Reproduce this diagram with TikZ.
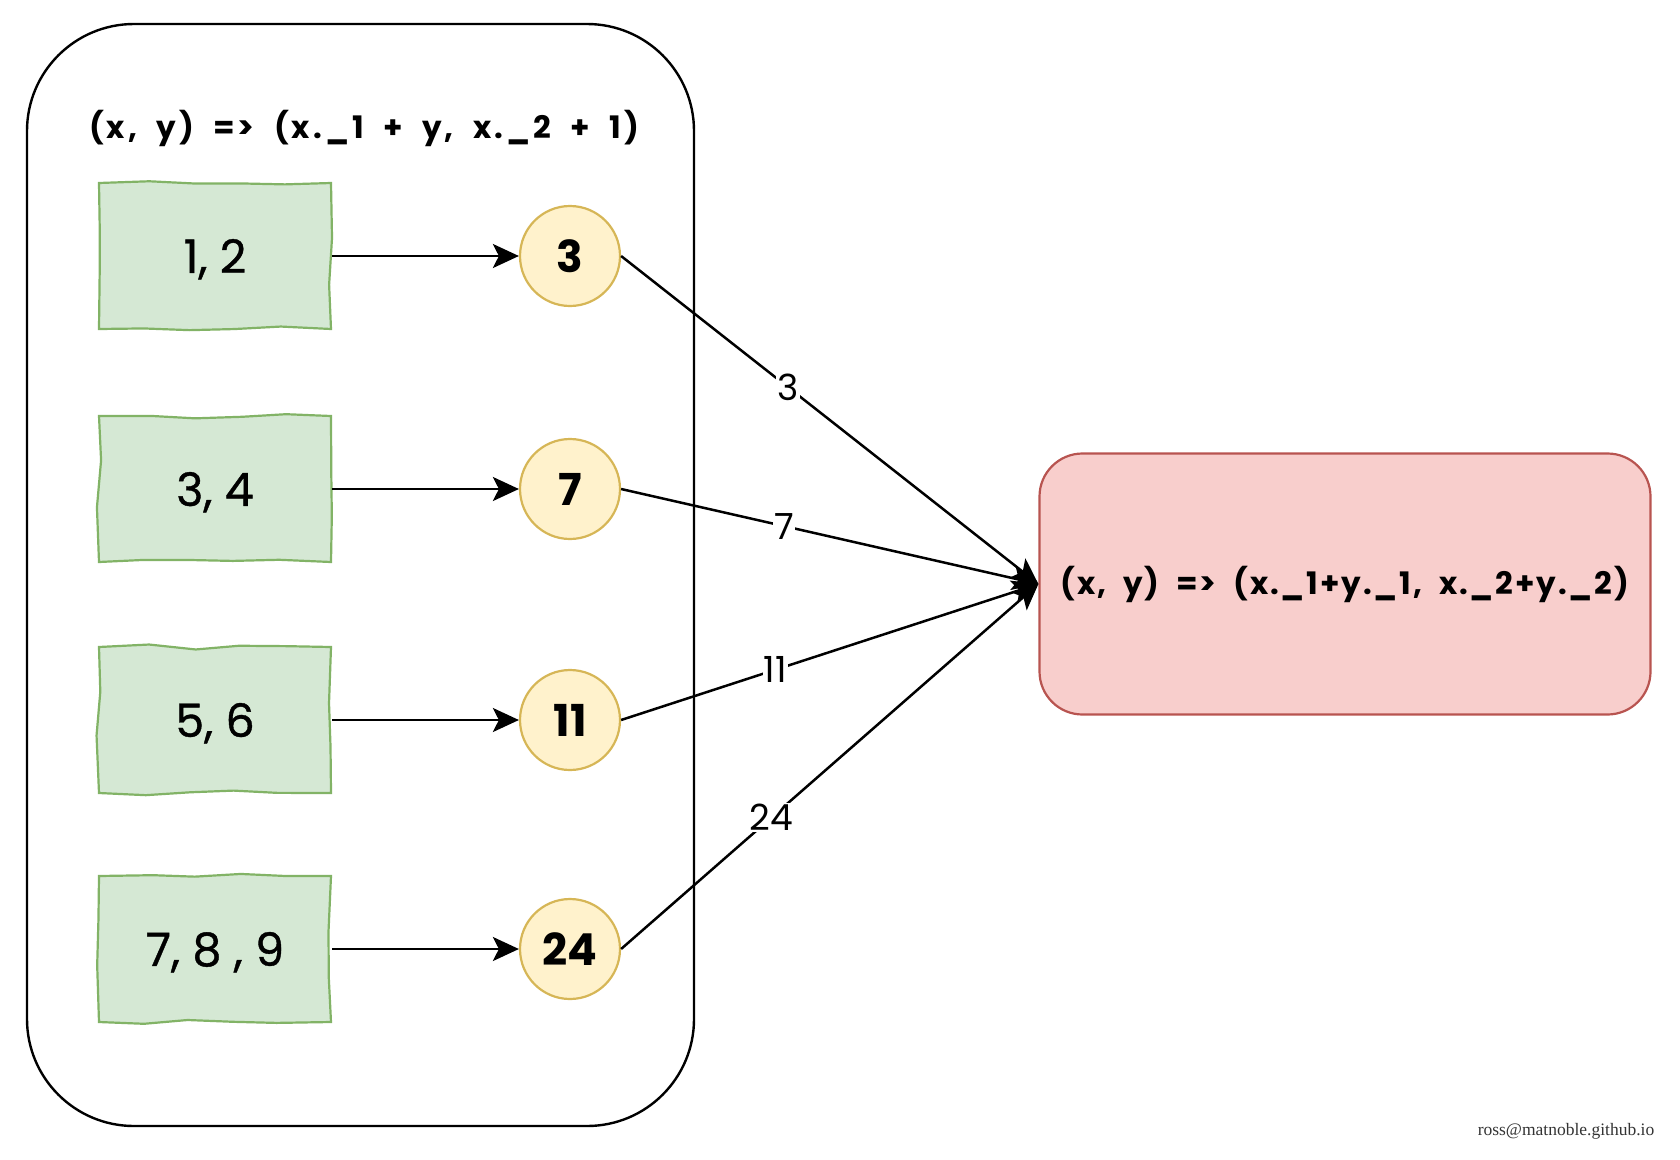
\documentclass[tikz,border=0pt]{standalone}
\usepackage{fontspec}
\setmainfont{Poppins}
\newfontfamily\mapfont[WordSpace=2,LetterSpace=10]{Poppins}
\newfontfamily\reducefont[WordSpace=2,LetterSpace=6]{Poppins}
\newfontfamily\markfont{Liberation Serif}
\usetikzlibrary{arrows.meta,decorations.pathmorphing}
\definecolor{pairfill}{HTML}{D5E8D4}
\definecolor{pairline}{HTML}{82B366}
\definecolor{sumfill}{HTML}{FFF2CC}
\definecolor{sumline}{HTML}{D6B656}
\definecolor{redfill}{HTML}{F8CECC}
\definecolor{redline}{HTML}{B85450}

\begin{document}
\begin{tikzpicture}[x=1pt,y=-1pt,
    pair/.style={draw=pairline,fill=pairfill,line width=2.2pt,minimum width=232pt,minimum height=146pt,
        decorate,decoration={random steps,segment length=45pt,amplitude=2.5pt},text depth=0pt,
        font=\fontsize{46}{50}\selectfont\addfontfeature{FakeBold=0.8}},
    sum/.style={circle,draw=sumline,fill=sumfill,line width=2.2pt,minimum size=100pt,inner sep=0pt,text depth=0pt,
        font=\fontsize{44}{48}\selectfont\bfseries},
    lbl/.style={fill=white,inner sep=1pt,font=\fontsize{36}{40}\selectfont},
    arr/.style={line width=2.5pt,-{Stealth[length=26pt,width=24pt,inset=6pt]}}]
    \pgfmathsetseed{7}
    \useasboundingbox (0,0) rectangle (1680,1159);

    \node[draw,line width=2.4pt,rounded corners=107pt,minimum width=667pt,minimum height=1102pt] (group) at (360.5,575) {};
    \node[font=\mapfont\fontsize{31}{35}\selectfont\bfseries] (map) at (364,128) {(x, y) => (x.\_1 + y, x.\_2 + 1)};

    \node[pair] (p1) at (215,256) {1, 2};
    \node[pair] (p2) at (215,489) {3, 4};
    \node[pair] (p3) at (215,720) {5, 6};
    \node[pair] (p4) at (215,949) {7, 8 , 9};

    \node[sum] (s1) at (570,256) {3};
    \node[sum] (s2) at (570,489) {7};
    \node[sum] (s3) at (570,720) {11};
    \node[sum] (s4) at (570,949) {24};

    \node[draw=redline,fill=redfill,line width=2.2pt,rounded corners=43pt,minimum width=611pt,minimum height=261pt,
        font=\reducefont\fontsize{31}{35}\selectfont\bfseries] (reduce) at (1345,584) {(x, y) => (x.\_1+y.\_1, x.\_2+y.\_2)};

    \node[font=\markfont\fontsize{17.5}{20}\selectfont,text=black!80] (mark) at (1566,1131) {ross@matnoble.github.io};

    \draw[arr] (p1.east) -- (s1.west);
    \draw[arr] (p2.east) -- (s2.west);
    \draw[arr] (p3.east) -- (s3.west);
    \draw[arr] (p4.east) -- (s4.west);

    \draw[arr] (s1.east) -- node[lbl,pos=0.40] {3} (reduce.west);
    \draw[arr] (s2.east) -- node[lbl,pos=0.39] {7} (reduce.west);
    \draw[arr] (s3.east) -- node[lbl,pos=0.37] {11} (reduce.west);
    \draw[arr] (s4.east) -- node[lbl,pos=0.36] {24} (reduce.west);
\end{tikzpicture}
\end{document}
